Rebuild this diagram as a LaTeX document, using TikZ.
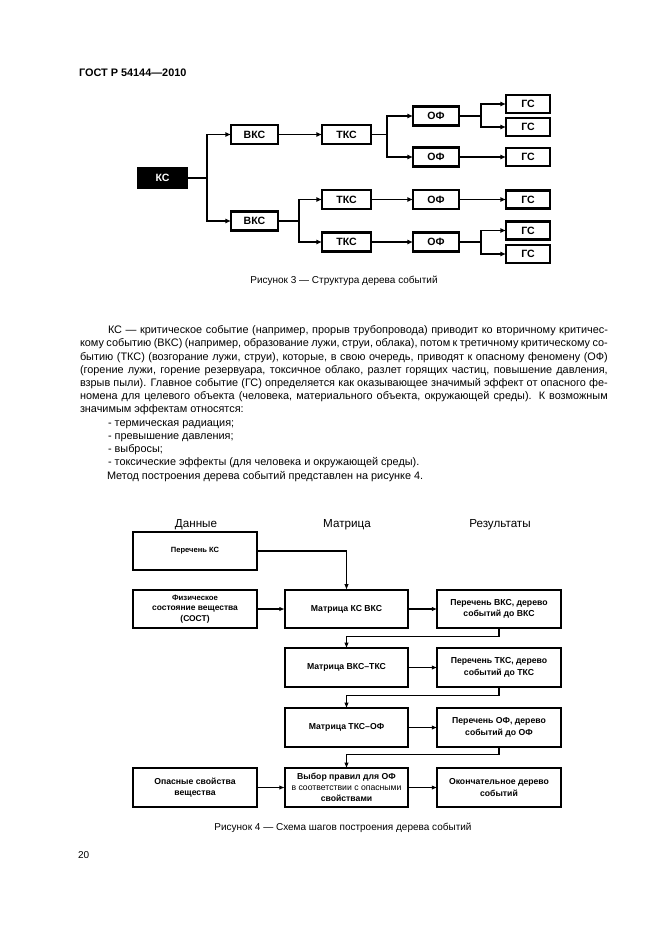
\documentclass[tikz,border=0pt]{standalone}
\usepackage{fontspec}
\setmainfont{Liberation Sans}
\usetikzlibrary{arrows.meta}
\begin{document}
\begin{tikzpicture}[x=0.9pt,y=-0.9pt,
  every node/.style={inner sep=0pt,outer sep=0pt},
  evbox/.style={draw,line width=1.9pt,minimum height=17.1pt,font=\bfseries\fontsize{9.5}{10}\selectfont},
  ksbox/.style={evbox,fill=black,text=white,minimum width=44.1pt},
  wbkc/.style={evbox,minimum width=42.3pt},
  wtkc/.style={evbox,minimum width=44.1pt},
  wof/.style={evbox,minimum width=41.4pt},
  gsbox/.style={evbox,minimum width=39.6pt,minimum height=16.2pt},
  link/.style={line width=1.7pt,line cap=rect},
  arr/.style={link,-{Latex[length=5pt,width=4.5pt]}},
  stepbox/.style={draw,line width=1.6pt,minimum width=111pt,minimum height=34.6pt,align=center,font=\bfseries\fontsize{7.8}{10.3}\selectfont},
  link4/.style={line width=1.3pt,line cap=rect},
  arr4/.style={link4,-{Latex[length=5pt,width=4pt]}},
  hdr/.style={anchor=base,font=\fontsize{10.5}{12}\selectfont},
  capt/.style={anchor=base,font=\fontsize{9}{11}\selectfont},
]
\fill[white] (0,0) rectangle (661,936);
\useasboundingbox (0,0) rectangle (661,936);

% header
\node[anchor=base west,font=\bfseries\fontsize{9.8}{12}\selectfont] (gost) at (79,76) {ГОСТ Р 54144—2010};

% ---- Figure 3 ----
\node[ksbox] (ks) at (162.5,178) {КС};
\node[wbkc] (bkc1) at (254.5,134.5) {ВКС};
\node[wbkc] (bkc2) at (254.5,221) {ВКС};
\node[wtkc] (tkc1) at (346.5,134.5) {ТКС};
\node[wtkc] (tkc2) at (346.5,199.5) {ТКС};
\node[wtkc] (tkc3) at (346.5,242) {ТКС};
\node[wof] (of1) at (436,116) {ОФ};
\node[wof] (of2) at (436,157) {ОФ};
\node[wof] (of3) at (436,199.5) {ОФ};
\node[wof] (of4) at (436,242) {ОФ};
\node[gsbox] (gs1) at (528,104) {ГС};
\node[gsbox] (gs2) at (528,127) {ГС};
\node[gsbox] (gs3) at (528,157) {ГС};
\node[gsbox] (gs4) at (528,199.5) {ГС};
\node[gsbox] (gs5) at (528,230.5) {ГС};
\node[gsbox] (gs6) at (528,254) {ГС};

\coordinate (j1) at (207,178);
\coordinate (j2) at (299,221);
\coordinate (j3) at (387,134.5);
\coordinate (j4) at (481,116);
\coordinate (j5) at (481,242);

\draw[link] (ks.east) -- (j1);
\draw[arr] (j1) |- (bkc1.west);
\draw[arr] (j1) |- (bkc2.west);
\draw[arr] (bkc1.east) -- (tkc1.west);
\draw[link] (bkc2.east) -- (j2);
\draw[arr] (j2) |- (tkc2.west);
\draw[arr] (j2) |- (tkc3.west);
\draw[link] (tkc1.east) -- (j3);
\draw[arr] (j3) |- (of1.west);
\draw[arr] (j3) |- (of2.west);
\draw[arr] (tkc2.east) -- (of3.west);
\draw[arr] (tkc3.east) -- (of4.west);
\draw[link] (of1.east) -- (j4);
\draw[arr] (j4) |- (gs1.west);
\draw[arr] (j4) |- (gs2.west);
\draw[arr] (of2.east) -- (gs3.west);
\draw[arr] (of3.east) -- (gs4.west);
\draw[link] (of4.east) -- (j5);
\draw[arr] (j5) |- (gs5.west);
\draw[arr] (j5) |- (gs6.west);

\node[capt] (cap3) at (344,283) {Рисунок 3 — Структура дерева событий};

% ---- body text (anchored at the baseline of its last line) ----
\node[anchor=base west,align=left,font=\fontsize{9.8}{11.9}\selectfont] (body) at (80,479) {%
\hspace*{25.2pt}\makebox[450pt][s]{КС — критическое событие (например, прорыв трубопровода) приводит ко вторичному критичес-}\\
\makebox[475pt][s]{кому событию (ВКС) (например, образование лужи, струи, облака), потом к третичному критическому со-}\\
\makebox[475pt][s]{бытию (ТКС) (возгорание лужи, струи), которые, в свою очередь, приводят к опасному феномену (ОФ)}\\
\makebox[475pt][s]{(горение лужи, горение резервуара, токсичное облако, разлет горящих частиц, повышение давления,}\\
\makebox[475pt][s]{взрыв пыли). Главное событие (ГС) определяется как оказывающее значимый эффект от опасного фе-}\\
\makebox[475pt][s]{номена для целевого объекта (человека, материального объекта, окружающей среды). К возможным}\\
значимым эффектам относятся:\\
\hspace*{25.2pt}- термическая радиация;\\
\hspace*{25.2pt}- превышение давления;\\
\hspace*{25.2pt}- выбросы;\\
\hspace*{25.2pt}- токсические эффекты (для человека и окружающей среды).\\
\hspace*{24.3pt}Метод построения дерева событий представлен на рисунке 4.};

% ---- Figure 4 ----
\node[hdr] (hd) at (196,527) {Данные};
\node[hdr] (hm) at (347,527) {Матрица};
\node[hdr] (hr) at (500,527) {Результаты};

\node[stepbox,font=\bfseries\fontsize{6.8}{8}\selectfont] (pks) at (195,551) {Перечень КС};
\node[stepbox,font=\bfseries\fontsize{7.6}{9.4}\selectfont] (phys) at (195,609) {{\fontsize{7}{9.4}\selectfont Физическое}\\состояние вещества\\(СОСТ)};
\node[stepbox] (m1) at (346.5,609) {Матрица КС ВКС};
\node[stepbox] (r1) at (499,609) {Перечень ВКС, дерево\\событий до ВКС};
\node[stepbox] (m2) at (346.5,667.5) {Матрица ВКС–ТКС};
\node[stepbox] (r2) at (499,667.5) {Перечень ТКС, дерево\\событий до ТКС};
\node[stepbox] (m3) at (346.5,727.5) {Матрица ТКС–ОФ};
\node[stepbox] (r3) at (499,727.5) {Перечень ОФ, дерево\\событий до ОФ};
\node[stepbox] (haz) at (195,787.5) {Опасные свойства\\вещества};
\node[stepbox,font=\bfseries\fontsize{7.8}{9.6}\selectfont] (m4) at (346.5,787.5) {Выбор правил для ОФ\\{\mdseries\fontsize{7.8}{9.6}\selectfont в соответствии с опасными}\\свойствами};
\node[stepbox] (fin) at (499,787.5) {Окончательное дерево\\событий};

\draw[arr4] (pks.east) -| (m1.north);
\draw[arr4] (phys.east) -- (m1.west);
\draw[arr4] (m1.east) -- (r1.west);
\draw[arr4] (r1.south) -- ++(0,8) -| (m2.north);
\draw[arr4] (m2.east) -- (r2.west);
\draw[arr4] (r2.south) -- ++(0,9) -| (m3.north);
\draw[arr4] (m3.east) -- (r3.west);
\draw[arr4] (r3.south) -- ++(0,8) -| (m4.north);
\draw[arr4] (haz.east) -- (m4.west);
\draw[arr4] (m4.east) -- (fin.west);

\node[capt] (cap4) at (343,830) {Рисунок 4 — Схема шагов построения дерева событий};

\node[anchor=base west,font=\fontsize{9}{10}\selectfont] (pnum) at (78,858.5) {20};
\end{tikzpicture}
\end{document}
